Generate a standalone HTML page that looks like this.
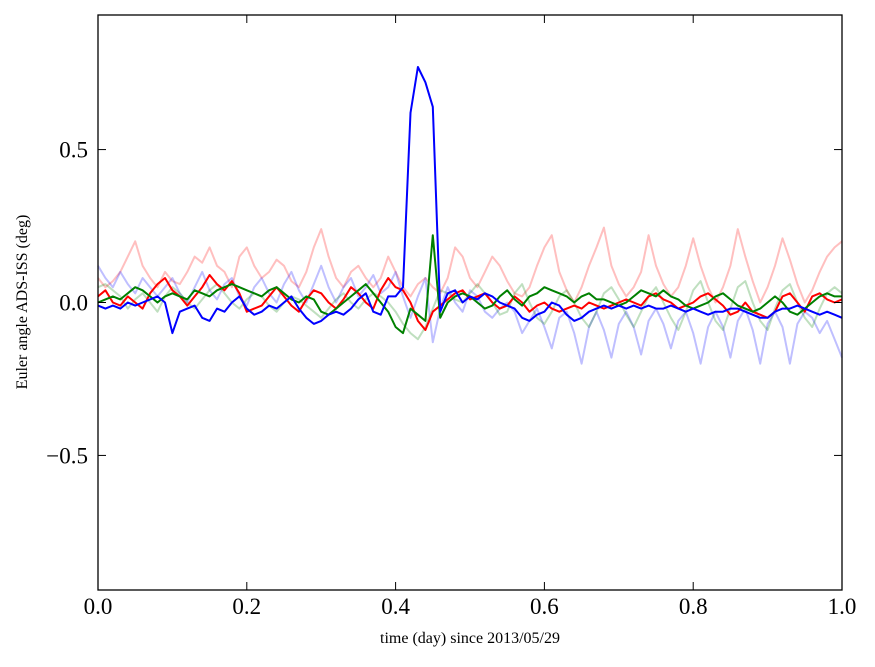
<!DOCTYPE html>
<html><head><meta charset="utf-8"><style>
body{margin:0;background:#fff;}
svg text{font-family:"Liberation Serif",serif;}
</style></head><body>
<svg id="chart" width="875" height="662" xmlns="http://www.w3.org/2000/svg">
<g id="series"></g>
<rect x="98" y="15" width="744" height="575" fill="none" stroke="#000" stroke-width="1.3"/>
<g id="ticks"></g>
<text x="470" y="643" font-size="16" text-anchor="middle">time (day) since 2013/05/29</text>
<text transform="translate(27,302) rotate(-90)" font-size="16" text-anchor="middle">Euler angle ADS-ISS (deg)</text>
</svg>
<script>
const xTicks=[0,0.2,0.4,0.6,0.8,1.0];
const xTickLabels=["0.0","0.2","0.4","0.6","0.8","1.0"];
const yTicks=[-0.5,0,0.5];
const yTickLabels=["\u22120.5","0.0","0.5"];
const lightRed=[0.08,0.05,0.07,0.10,0.15,0.20,0.12,0.08,0.05,0.10,
0.07,0.06,0.10,0.15,0.13,0.18,0.12,0.10,0.05,0.15,
0.18,0.12,0.08,0.10,0.14,0.12,0.07,0.05,0.10,0.18,
0.24,0.15,0.08,0.05,0.10,0.12,0.08,0.05,0.08,0.15,
0.10,0.05,0.02,0.06,0.08,0.05,0.03,0.08,0.18,0.15,
0.08,0.05,0.10,0.15,0.12,0.07,0.03,0.02,0.05,0.12,
0.18,0.22,0.10,0.04,0.00,0.05,0.12,0.18,0.245,0.12,
0.06,0.02,0.05,0.10,0.22,0.12,0.06,0.02,0.05,0.12,
0.21,0.12,0.05,0.00,0.05,0.12,0.24,0.15,0.07,0.00,
0.05,0.12,0.21,0.14,0.06,0.00,0.04,0.10,0.15,0.18,0.20];
const lightBlue=[0.12,0.08,0.05,0.10,0.06,0.03,0.08,0.05,0.02,0.05,
0.08,0.03,0.00,0.05,0.10,0.04,0.01,0.06,0.08,0.02,
-0.01,0.05,0.08,0.03,0.00,0.06,0.10,0.04,0.00,0.06,
0.12,0.05,0.00,0.05,0.08,0.02,0.05,0.09,0.03,0.05,
0.10,0.02,-0.05,0.02,0.08,-0.13,-0.02,0.05,0.00,-0.03,
0.04,0.02,-0.03,-0.05,-0.02,0.00,-0.03,-0.10,-0.06,-0.02,
-0.08,-0.15,-0.05,-0.03,-0.10,-0.20,-0.08,-0.03,-0.09,-0.18,
-0.07,-0.03,-0.08,-0.17,-0.06,-0.02,-0.07,-0.15,-0.06,-0.03,
-0.10,-0.20,-0.08,-0.03,-0.08,-0.18,-0.06,-0.02,-0.09,-0.20,
-0.07,-0.03,-0.08,-0.20,-0.07,-0.03,-0.05,-0.10,-0.06,-0.12,-0.18];
const lightGreen=[0.05,0.06,0.04,0.02,-0.02,0.01,0.03,0.00,-0.03,0.02,
0.05,0.03,0.00,-0.02,0.01,0.04,0.06,0.03,0.00,-0.02,
0.01,0.03,0.02,-0.01,-0.03,0.00,0.02,0.01,-0.01,-0.03,
-0.05,-0.02,0.01,0.03,0.00,-0.02,0.01,0.03,0.02,0.00,
-0.03,-0.07,-0.10,-0.12,-0.08,-0.02,0.04,0.03,0.01,0.00,
0.03,0.06,0.03,0.00,-0.04,-0.03,0.03,0.06,0.00,-0.05,
-0.07,-0.03,0.02,0.04,0.00,-0.05,-0.08,-0.03,0.03,0.05,
0.01,-0.04,-0.08,-0.03,0.02,0.05,0.00,-0.05,-0.09,-0.03,
0.04,0.07,0.00,-0.06,-0.09,-0.02,0.05,0.07,0.00,-0.06,
-0.09,-0.02,0.04,0.06,0.00,-0.05,-0.08,-0.02,0.03,0.05,0.03];
const red=[0.02,0.04,0.00,-0.01,0.02,0.00,-0.02,0.03,0.06,0.08,
0.04,0.02,-0.01,0.02,0.05,0.09,0.06,0.04,0.07,0.03,
-0.03,-0.02,-0.01,0.02,0.05,0.02,-0.01,-0.03,0.01,0.04,
0.03,0.00,-0.02,0.01,0.05,0.03,0.00,-0.02,0.04,0.08,
0.05,0.04,0.00,-0.06,-0.09,-0.03,-0.01,0.01,0.03,0.04,
0.01,0.02,0.03,0.00,-0.02,-0.01,0.02,0.00,-0.03,-0.01,
0.00,-0.02,-0.03,-0.02,-0.01,-0.02,0.00,-0.01,-0.02,-0.01,
0.00,0.01,0.00,-0.01,0.02,0.03,0.01,0.00,-0.02,-0.01,
0.00,0.02,0.03,0.01,-0.01,-0.04,-0.03,0.00,-0.03,-0.04,
-0.05,-0.03,0.02,0.03,0.00,-0.03,0.02,0.03,0.01,0.00,0.01];
const green=[0.00,0.01,0.02,0.01,0.03,0.05,0.04,0.02,0.00,0.02,
0.03,0.02,0.01,0.04,0.03,0.02,0.04,0.05,0.06,0.05,
0.04,0.03,0.02,0.04,0.05,0.03,0.01,0.00,0.02,0.01,
-0.03,-0.04,-0.02,0.00,0.02,0.04,0.06,0.03,0.00,-0.03,
-0.08,-0.10,-0.02,-0.04,-0.06,0.22,-0.05,0.00,0.02,0.03,
0.02,0.00,-0.02,-0.01,0.02,0.04,0.01,-0.01,0.02,0.03,
0.05,0.04,0.03,0.02,0.00,0.02,0.03,0.01,0.01,0.00,
-0.01,0.00,0.02,0.04,0.03,0.02,0.04,0.02,0.01,-0.01,
-0.02,-0.01,0.00,0.02,0.03,0.01,-0.01,-0.02,-0.03,-0.02,
0.00,0.02,0.00,-0.03,-0.04,-0.02,0.00,0.02,0.03,0.02,0.02];
const blue=[-0.01,-0.02,-0.01,-0.02,0.00,-0.01,0.00,0.01,0.02,0.00,
-0.10,-0.03,-0.02,-0.01,-0.05,-0.06,-0.02,-0.03,0.00,0.02,
-0.02,-0.04,-0.03,-0.01,-0.02,0.00,0.02,-0.02,-0.05,-0.07,
-0.06,-0.04,-0.03,-0.04,-0.02,0.01,0.03,-0.03,-0.04,0.02,
0.02,0.05,0.62,0.77,0.72,0.64,-0.03,0.03,0.04,0.00,
0.02,0.01,0.03,0.02,0.00,-0.01,-0.02,-0.05,-0.06,-0.04,
-0.03,0.00,-0.01,-0.04,-0.06,-0.05,-0.03,-0.02,-0.01,-0.02,
-0.01,-0.02,-0.01,-0.02,-0.01,-0.02,-0.02,-0.01,-0.02,-0.03,
-0.02,-0.03,-0.04,-0.03,-0.03,-0.02,-0.02,-0.03,-0.04,-0.05,
-0.05,-0.03,-0.02,-0.02,-0.01,-0.02,-0.03,-0.04,-0.03,-0.04,-0.05];
const seriesList=[["light-red-series",lightRed,"#ff0000",0.25],["light-blue-series",lightBlue,"#0000ff",0.25],["light-green-series",lightGreen,"#008000",0.25],["red-series",red,"#ff0000",1],["green-series",green,"#008000",1],["blue-series",blue,"#0000ff",1]];
const NS="http://www.w3.org/2000/svg";
const X0=98,X1=842,YTOP=15,YBOT=590,YMIN=-0.94,YMAX=0.94;
function sx(v){return X0+(v-0)/(1-0)*(X1-X0);}
function sy(v){return YBOT-(v-YMIN)/(YMAX-YMIN)*(YBOT-YTOP);}
const sg=document.getElementById('series');
seriesList.forEach(s=>{
  const vals=s[1];
  let d="";
  vals.forEach((v,i)=>{const x=i/(vals.length-1);d+=(i?"L":"M")+sx(x).toFixed(1)+","+sy(v).toFixed(1);});
  const p=document.createElementNS(NS,'path');
  p.setAttribute('d',d);p.setAttribute('fill','none');p.setAttribute('stroke',s[2]);
  p.setAttribute('stroke-opacity',s[3]);p.setAttribute('stroke-width','2');p.setAttribute('stroke-linejoin','round');
  
  
  sg.appendChild(p);
});
const tg=document.getElementById('ticks');
function line(x1,y1,x2,y2){const l=document.createElementNS(NS,'line');l.setAttribute('x1',x1);l.setAttribute('y1',y1);l.setAttribute('x2',x2);l.setAttribute('y2',y2);l.setAttribute('stroke','#000');l.setAttribute('stroke-width','1');


tg.appendChild(l);}
function txt(x,y,s,anchor){const t=document.createElementNS(NS,'text');t.setAttribute('x',x);t.setAttribute('y',y);t.setAttribute('font-size','23');t.setAttribute('text-anchor',anchor);t.textContent=s;


tg.appendChild(t);}
xTicks.forEach((v,i)=>{const x=sx(v);line(x,YBOT,x,YBOT-8);line(x,YTOP,x,YTOP+8);txt(x,614,xTickLabels[i],'middle');});
yTicks.forEach((v,i)=>{const y=sy(v);line(X0,y,X0+8,y);line(X1,y,X1-8,y);txt(88,y+8,yTickLabels[i],'end');});
</script>
</body></html>
